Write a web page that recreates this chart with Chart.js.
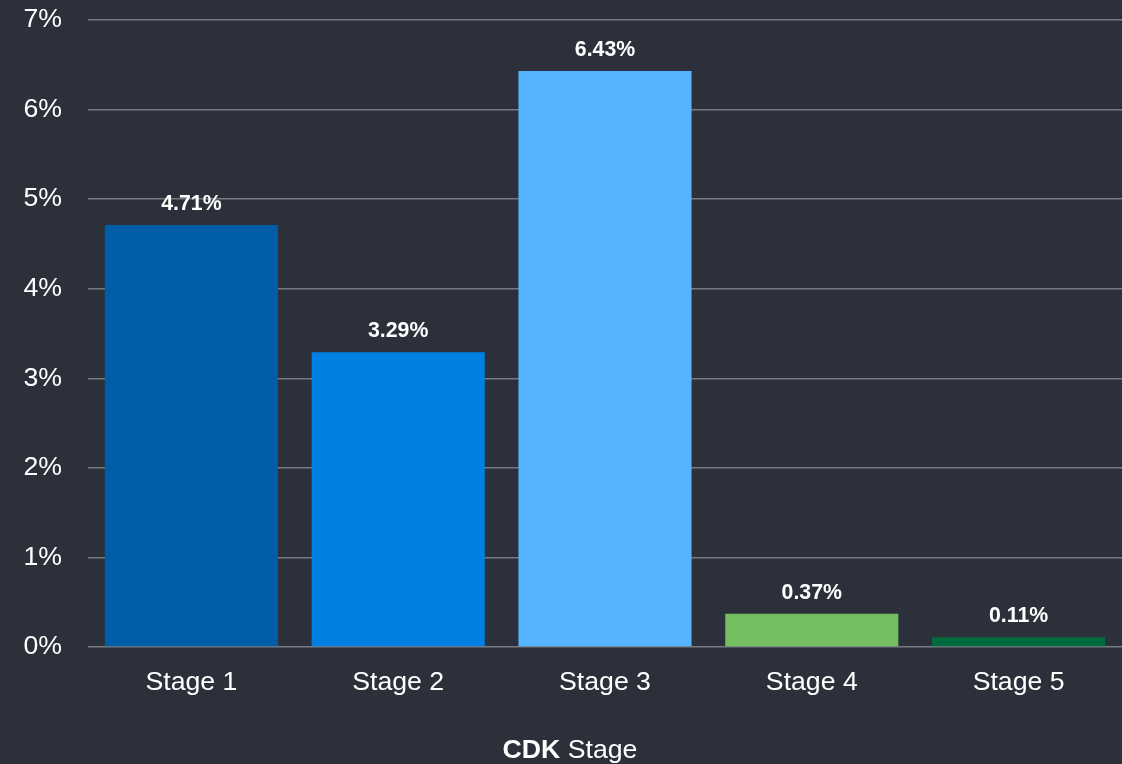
<!DOCTYPE html>
<html>
<head>
<meta charset="utf-8">
<script src="https://cdn.jsdelivr.net/npm/chart.js@4/dist/chart.umd.min.js"></script>
<style>
    html, body { margin: 0; padding: 0; background: #2b303a; }
    #wrap { width: 1122px; height: 764px; }
</style>
</head>
<body>
<div id="wrap"><canvas id="cdkChart"></canvas></div>
<script>
// Chart data
const stages = ['Stage 1', 'Stage 2', 'Stage 3', 'Stage 4', 'Stage 5'];
const shares = [4.71, 3.29, 6.43, 0.37, 0.11];
const barColors = ['#005ea8', '#0080e2', '#55b4ff', '#74c060', '#006b3d'];
const yTicks = [0, 1, 2, 3, 4, 5, 6, 7];

const FONT = "'Liberation Sans', Arial, sans-serif";

// Value labels above each bar
const valueLabels = {
    id: 'valueLabels',
    afterDatasetsDraw(chart) {
        const ctx = chart.ctx;
        const meta = chart.getDatasetMeta(0);
        ctx.save();
        ctx.font = `bold 21.3px ${FONT}`;
        ctx.fillStyle = '#ffffff';
        ctx.textAlign = 'center';
        ctx.textBaseline = 'alphabetic';
        meta.data.forEach((bar, i) => {
            ctx.fillText(shares[i].toFixed(2) + '%', bar.x, bar.y - 15);
        });
        ctx.restore();
    }
};

// Axis title with bold "CDK"
const axisTitle = {
    id: 'axisTitle',
    afterDraw(chart) {
        const ctx = chart.ctx;
        ctx.save();
        const bold = `bold 26.67px ${FONT}`;
        const normal = `26.67px ${FONT}`;
        ctx.font = bold;
        const w1 = ctx.measureText('CDK').width;
        ctx.font = normal;
        const w2 = ctx.measureText(' Stage').width;
        const x0 = 570 - (w1 + w2) / 2;
        const y = 758;
        ctx.fillStyle = '#ffffff';
        ctx.textBaseline = 'alphabetic';
        ctx.textAlign = 'left';
        ctx.font = bold;
        ctx.fillText('CDK', x0, y);
        ctx.font = normal;
        ctx.fillText(' Stage', x0 + w1, y);
        ctx.restore();
    }
};

new Chart(document.getElementById('cdkChart'), {
    type: 'bar',
    data: {
        labels: stages,
        datasets: [{
            data: shares,
            backgroundColor: barColors,
            borderWidth: 0,
            barPercentage: 0.837,
            categoryPercentage: 1.0
        }]
    },
    options: {
        responsive: true,
        maintainAspectRatio: false,
        animation: false,
        layout: { padding: 0 },
        plugins: {
            legend: { display: false },
            tooltip: { enabled: false }
        },
        scales: {
            x: {
                grid: { display: false, drawTicks: false },
                border: { display: false },
                ticks: {
                    color: '#ffffff',
                    font: { family: FONT, size: 26.67 },
                    padding: 20,
                    maxRotation: 0
                },
                afterFit(scale) { scale.height = 117; }
            },
            y: {
                min: 0,
                max: 7,
                afterBuildTicks(scale) {
                    scale.ticks = yTicks.map(v => ({ value: v }));
                },
                grid: { color: '#767b82', lineWidth: 1.5, drawTicks: false },
                border: { display: false },
                ticks: {
                    color: '#ffffff',
                    font: { family: FONT, size: 26.67 },
                    padding: 26,
                    callback: v => v + '%'
                },
                afterFit(scale) {
                    scale.width = 88;
                    scale.paddingTop = 20;
                    scale.paddingBottom = 0;
                }
            }
        }
    },
    plugins: [valueLabels, axisTitle]
});
</script>
</body>
</html>
